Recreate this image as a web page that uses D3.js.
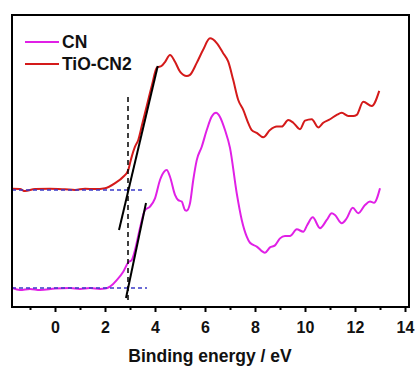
<!DOCTYPE html>
<html><head><meta charset="utf-8">
<script src="https://cdn.jsdelivr.net/npm/d3@7"></script>
<style>body{margin:0;background:#fff}svg{display:block}</style>
</head><body>
<svg id="chart" width="415" height="367"></svg>
<script>
// Binding energy (eV) and intensity (a.u.)
const cnX = [-1.7,-1.4,-1.0,-0.6,0.0,0.6,1.0,1.4,1.8,2.0,2.2,2.47,2.73,2.93,3.07,3.2,3.4,3.6,3.8,4.0,4.2,4.36,4.47,4.6,4.8,4.93,5.07,5.2,5.27,5.4,5.53,5.67,5.87,6.07,6.27,6.44,6.6,6.8,7.0,7.27,7.47,7.67,7.8,8.07,8.4,8.6,8.8,9.0,9.2,9.4,9.67,9.93,10.09,10.31,10.6,10.87,11.07,11.2,11.47,11.67,11.91,12.13,12.4,12.6,12.76,13.0];
const cnY = [6.5,5.8,6.2,5.8,6.3,6.5,6.2,6.5,6.2,6.3,7.0,9.2,12.1,15.3,16.1,19.5,27.1,33.2,34.4,37.2,43.5,46.3,46.9,44.6,38.4,36.6,36.1,33.2,33.0,35.5,43.5,50.3,54.9,60.6,65.2,66.5,65.1,60.6,54.5,38.9,29.8,24.1,22.0,20.7,18.6,20.4,21.1,23.5,24.3,24.3,26.6,25.8,28.1,30.7,27.0,29.8,32.1,31.5,28.7,30.4,34.0,32.1,34.9,36.1,35.7,40.7];
const tiX = [-1.7,-1.4,-1.2,-0.8,-0.2,0.4,0.8,1.2,1.6,2.0,2.4,2.73,2.93,3.0,3.07,3.2,3.33,3.48,3.68,3.88,4.07,4.27,4.4,4.6,4.8,5.0,5.27,5.4,5.67,5.92,6.2,6.47,6.72,6.93,7.13,7.33,7.53,7.73,7.87,8.07,8.33,8.6,8.87,9.07,9.33,9.53,9.8,10.0,10.27,10.53,10.73,11.0,11.27,11.47,11.73,11.93,12.07,12.33,12.67,12.97];
const tiY = [40.5,40.4,39.7,40.4,40.5,40.3,40.1,40.5,40.4,40.7,42.4,44.6,46.9,49.2,51.5,54.9,57.2,62.3,69.2,76.0,81.9,82.6,83.9,86.3,84.0,80.6,79.1,79.5,83.6,88.0,92.0,90.4,87.0,84.0,77.7,70.9,67.5,63.0,60.6,59.6,58.1,60.6,61.8,61.8,64.0,63.1,60.9,63.8,64.3,61.5,63.1,64.3,65.8,66.5,65.4,65.4,65.8,70.3,68.8,74.0];
const seriesNames = ["CN", "TiO-CN2"];
// baselines, tangents and onset marker
const baseTiX = [-1.72, 3.52], baseTiY = [40.1, 40.1];
const baseCnX = [-1.72, 3.68], baseCnY = [6.5, 6.5];
const tanTiX = [2.56, 4.11], tanTiY = [26.4, 82.5];
const tanCnX = [2.84, 3.64], tanCnY = [3.1, 35.6];
const onsetX = [2.92, 2.92], onsetY = [2.4, 73.3];
const majorTicks = [0,2,4,6,8,10,12,14];
const minorTicks = [-1,1,3,5,7,9,11,13];
const xTitle = "Binding energy / eV";

const svg = d3.select("#chart");
const L = 12, R = 409, T = 15, B = 307;
const x = d3.scaleLinear().domain([-1.72, 14.16]).range([L, R]);
const y = d3.scaleLinear().domain([0, 100]).range([B, T]);
const font = "'Liberation Sans', Arial, sans-serif";

const line = d3.line().x(d => x(d[0])).y(d => y(d[1])).curve(d3.curveMonotoneX);
const straight = d3.line().x(d => x(d[0])).y(d => y(d[1]));
const zip = (a, b) => a.map((v, i) => [v, b[i]]);

const colors = { "CN": "#e020e6", "TiO-CN2": "#d41a1a" };

// curves
svg.append("path").attr("d", line(zip(tiX, tiY))).attr("fill", "none")
  .attr("stroke", colors["TiO-CN2"]).attr("stroke-width", 2).attr("stroke-linejoin", "round");
svg.append("path").attr("d", line(zip(cnX, cnY))).attr("fill", "none")
  .attr("stroke", colors["CN"]).attr("stroke-width", 2).attr("stroke-linejoin", "round");

// baselines
[[baseTiX, baseTiY], [baseCnX, baseCnY]].forEach(([a, b]) => {
  svg.append("path").attr("d", straight(zip(a, b))).attr("fill", "none")
    .attr("stroke", "#3a3ac8").attr("stroke-width", 1.5).attr("stroke-dasharray", "4,3");
});
// tangents
[[tanTiX, tanTiY], [tanCnX, tanCnY]].forEach(([a, b]) => {
  svg.append("path").attr("d", straight(zip(a, b))).attr("fill", "none")
    .attr("stroke", "#000").attr("stroke-width", 2);
});
// onset dashed line
svg.append("path").attr("d", straight(zip(onsetX, onsetY))).attr("fill", "none")
  .attr("stroke", "#000").attr("stroke-width", 1.5).attr("stroke-dasharray", "5,4");

// frame
svg.append("rect").attr("x", L).attr("y", T).attr("width", R - L).attr("height", B - T)
  .attr("fill", "none").attr("stroke", "#000").attr("stroke-width", 2);

// axes
const gMaj = svg.append("g").attr("transform", `translate(0,${B})`)
  .call(d3.axisBottom(x).tickValues(majorTicks).tickSize(5).tickPadding(10).tickFormat(d3.format("d")));
gMaj.select(".domain").remove();
gMaj.selectAll("line").attr("stroke", "#000").attr("stroke-width", 2);
gMaj.selectAll("text").attr("font-family", font).attr("font-weight", "bold")
  .attr("font-size", 16).attr("fill", "#111");
const gMin = svg.append("g").attr("transform", `translate(0,${B})`)
  .call(d3.axisBottom(x).tickValues(minorTicks).tickSize(3).tickFormat(""));
gMin.select(".domain").remove();
gMin.selectAll("line").attr("stroke", "#000").attr("stroke-width", 2);

svg.append("text").attr("x", 210).attr("y", 362).attr("text-anchor", "middle")
  .attr("font-family", font).attr("font-weight", "bold").attr("font-size", 17.5)
  .attr("fill", "#111").text(xTitle);

// legend
const legY = [42, 64];
seriesNames.forEach((n, i) => {
  svg.append("line").attr("x1", 25).attr("x2", 59).attr("y1", legY[i]).attr("y2", legY[i])
    .attr("stroke", colors[n]).attr("stroke-width", 2);
  svg.append("text").attr("x", 62).attr("y", legY[i] + 6).attr("font-family", font)
    .attr("font-weight", "bold").attr("font-size", 17.5).attr("fill", "#111").text(n);
});
</script>
</body></html>
